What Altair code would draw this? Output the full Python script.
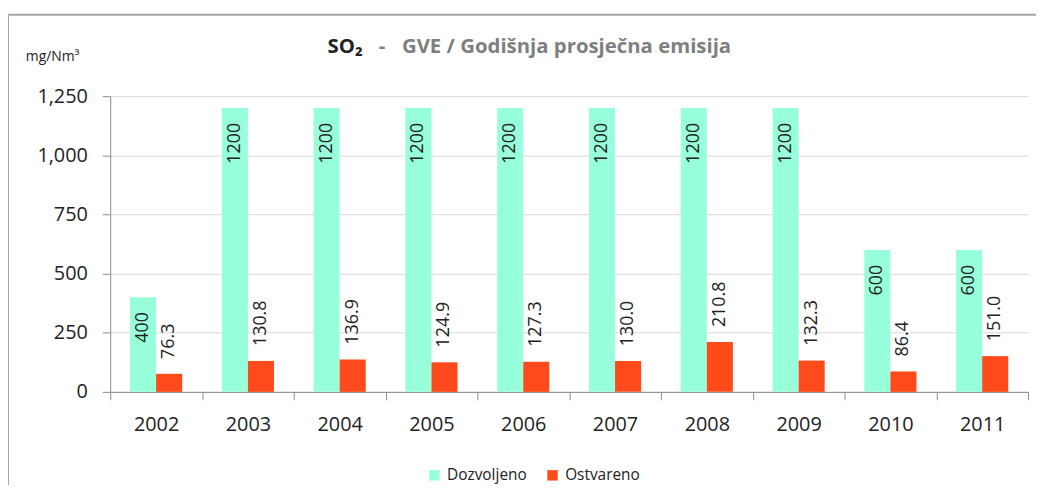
import altair as alt
import pandas as pd

years = ["2002", "2003", "2004", "2005", "2006", "2007", "2008", "2009", "2010", "2011"]
dozvoljeno = [400, 1200, 1200, 1200, 1200, 1200, 1200, 1200, 600, 600]
ostvareno = [76.3, 130.8, 136.9, 124.9, 127.3, 130.0, 210.8, 132.3, 86.4, 151.0]
series_names = ["Dozvoljeno", "Ostvareno"]
series_colors = ["#97FFD9", "#FF4A1C"]
y_ticks = [0, 250, 500, 750, 1000, 1250]
title_main = "SO\u2082"
title_dash = "-"
title_rest = "GVE / Godišnja prosječna emisija"
unit_label = "mg/Nm\u00b3"

FONT = "Open Sans"

rows = []
for y, d, o in zip(years, dozvoljeno, ostvareno):
    rows.append({"year": y, "series": "Dozvoljeno", "value": d})
    rows.append({"year": y, "series": "Ostvareno", "value": o})
df = pd.DataFrame(rows)

x_enc = alt.X("year:N", sort=years, title=None,
              scale=alt.Scale(paddingInner=0, paddingOuter=0, round=False),
              axis=alt.Axis(labelAngle=0, labelFontSize=20, labelFont=FONT, labelColor="#222",
                            tickBand="extent", tickSize=8, tickColor="#8c8c8c",
                            domainColor="#8c8c8c", labelPadding=15, grid=False))
xoff_enc = alt.XOffset("series:N", scale=alt.Scale(domain=series_names, paddingInner=0,
                                                   paddingOuter=0.76, round=False))
y_scale = alt.Scale(domain=[0, 1250], nice=False)

base = alt.Chart(df)

bars = base.mark_bar().encode(
    x=x_enc,
    xOffset=xoff_enc,
    y=alt.Y("value:Q", scale=y_scale, title=None,
            axis=alt.Axis(values=y_ticks, format=",d", labelFontSize=20, labelFont=FONT,
                          labelColor="#222", tickSize=8, tickColor="#8c8c8c",
                          domainColor="#8c8c8c", gridColor="#d9d9d9", labelPadding=15)),
    color=alt.Color("series:N", scale=alt.Scale(domain=series_names, range=series_colors),
                    legend=alt.Legend(title=None, orient="none", legendX=319, legendY=374,
                                      direction="horizontal", symbolType="square",
                                      symbolSize=110, symbolStrokeWidth=0, labelFontSize=15.5,
                                      labelFont=FONT, labelColor="#222", columnPadding=18,
                                      labelOffset=5, padding=0)),
)

green_labels = base.transform_filter(alt.datum.series == "Dozvoljeno").mark_text(
    angle=270, align="right", baseline="middle", dx=-15, fontSize=18, font=FONT, color="#222"
).encode(
    x=alt.X("year:N", sort=years),
    xOffset=xoff_enc,
    y=alt.Y("value:Q", scale=y_scale),
    text=alt.Text("value:Q", format="d"),
)

red_labels = base.transform_filter(alt.datum.series == "Ostvareno").mark_text(
    angle=270, align="left", baseline="middle", dx=15, fontSize=18, font=FONT, color="#222"
).encode(
    x=alt.X("year:N", sort=years),
    xOffset=xoff_enc,
    y=alt.Y("value:Q", scale=y_scale),
    text=alt.Text("value:Q", format=".1f"),
)

ann = alt.Chart(pd.DataFrame({"a": [0]}))
t1 = ann.mark_text(text=title_main, align="left", baseline="middle", fontSize=20.5,
                   fontWeight="bold", font=FONT, color="#222").encode(
    x=alt.value(219), y=alt.value(-50))
t2 = ann.mark_text(text=title_dash, align="center", baseline="middle", fontSize=20.5,
                   fontWeight="bold", font=FONT, color="#7f7f7f").encode(
    x=alt.value(274), y=alt.value(-50))
t3 = ann.mark_text(text=title_rest, align="left", baseline="middle", fontSize=20.5,
                   fontWeight="bold", font=FONT, color="#7f7f7f").encode(
    x=alt.value(294), y=alt.value(-50))
t4 = ann.mark_text(text=unit_label, align="left", baseline="middle", fontSize=14,
                   font=FONT, color="#222").encode(
    x=alt.value(-85), y=alt.value(-39))
frame_left = ann.mark_rule(color="#a6a6a6", strokeWidth=2).encode(
    x=alt.value(-103), y=alt.value(-82), y2=alt.value(400))
frame_top = ann.mark_rule(color="#a6a6a6", strokeWidth=2).encode(
    x=alt.value(-103), x2=alt.value(940), y=alt.value(-82))

chart = alt.layer(frame_left, frame_top, bars, green_labels, red_labels, t1, t2, t3, t4).properties(
    width=925, height=298,
    autosize=alt.AutoSizeParams(type="none"),
    padding={"left": 103, "top": 87, "right": 8, "bottom": 92},
).configure_view(stroke=None)

chart.save("out.html", embed_options={"renderer": "svg", "actions": False})
